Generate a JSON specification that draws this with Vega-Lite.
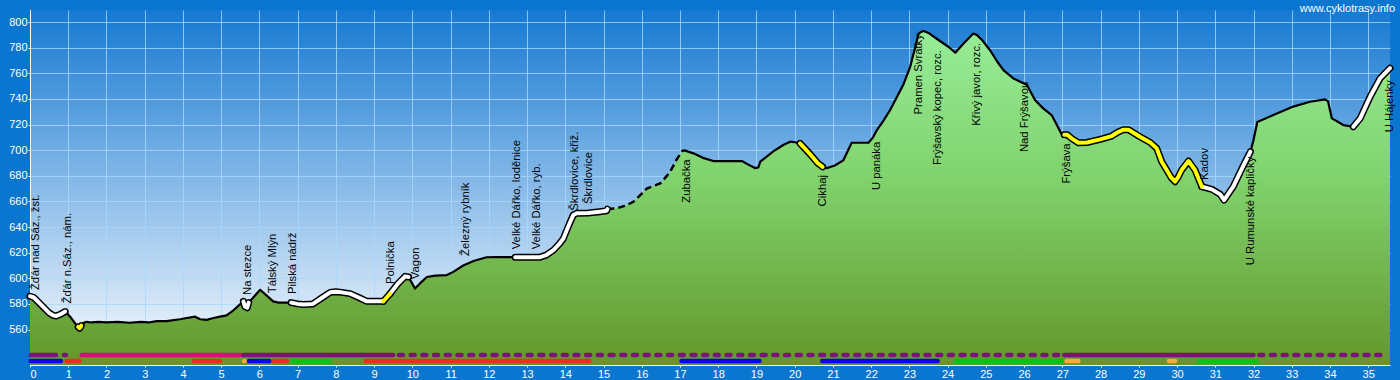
{
  "$schema": "https://vega.github.io/schema/vega-lite/v6.json",
  "width": 1360,
  "height": 355,
  "autosize": "none",
  "padding": {"left": 30, "top": 10, "right": 10, "bottom": 15},
  "background": "#0b76cf",
  "title": {"text": "www.cyklotrasy.info", "anchor": "end", "frame": "group", "color": "white", "font": "Liberation Sans", "fontSize": 11, "fontWeight": "normal", "offset": 0, "dx": 5, "dy": 4},
  "config": {
    "view": {"stroke": null, "fill": {"gradient": "linear", "x1": 0, "y1": 0, "x2": 0, "y2": 1, "stops": [{"offset": 0, "color": "#1679d2"}, {"offset": 1, "color": "#fbfcfe"}]}},
    "axis": {"labelFont": "Liberation Sans", "labelFontSize": 11, "labelColor": "white", "domainColor": "white", "tickColor": "white", "gridColor": "#a8d8ff", "gridOpacity": 0.8, "title": null, "labelOverlap": false, "tickSize": 2, "labelPadding": 1}
  },
  "datasets": {
    "profile": [
      {"km":0,"elev":586,"t":"w","g":"w1"},{"km":0.1,"elev":585,"t":"w","g":"w1"},{"km":0.3,"elev":579,"t":"w","g":"w1"},{"km":0.5,"elev":573,"t":"w","g":"w1"},{"km":0.61,"elev":571,"t":"w","g":"w1"},{"km":0.68,"elev":570.5,"t":"w","g":"w1"},{"km":0.8,"elev":572,"t":"w","g":"w1"},{"km":0.92,"elev":574,"t":"w","g":"w1"},
      {"km":0.92,"elev":574,"t":"b","g":"b1"},{"km":1.05,"elev":570,"t":"b","g":"b1"},{"km":1.2,"elev":564,"t":"b","g":"b1"},{"km":1.26,"elev":562,"t":"b","g":"b1"},
      {"km":1.26,"elev":562,"t":"y","g":"y1"},{"km":1.3,"elev":561,"t":"y","g":"y1"},{"km":1.34,"elev":563,"t":"y","g":"y1"},
      {"km":1.34,"elev":563,"t":"b","g":"b2"},{"km":1.39,"elev":565,"t":"b","g":"b2"},{"km":1.48,"elev":566,"t":"b","g":"b2"},{"km":1.6,"elev":565.5,"t":"b","g":"b2"},{"km":1.8,"elev":566,"t":"b","g":"b2"},{"km":2.0,"elev":565.5,"t":"b","g":"b2"},{"km":2.3,"elev":566,"t":"b","g":"b2"},{"km":2.6,"elev":565.3,"t":"b","g":"b2"},{"km":2.9,"elev":566,"t":"b","g":"b2"},{"km":3.1,"elev":565.5,"t":"b","g":"b2"},{"km":3.31,"elev":566.6,"t":"b","g":"b2"},{"km":3.57,"elev":566.6,"t":"b","g":"b2"},{"km":3.92,"elev":568,"t":"b","g":"b2"},{"km":4.1,"elev":569,"t":"b","g":"b2"},{"km":4.32,"elev":570,"t":"b","g":"b2"},{"km":4.45,"elev":568,"t":"b","g":"b2"},{"km":4.62,"elev":567.5,"t":"b","g":"b2"},{"km":4.8,"elev":569,"t":"b","g":"b2"},{"km":4.97,"elev":570,"t":"b","g":"b2"},{"km":5.14,"elev":571,"t":"b","g":"b2"},{"km":5.32,"elev":575,"t":"b","g":"b2"},{"km":5.58,"elev":582,"t":"b","g":"b2"},
      {"km":5.58,"elev":582,"t":"w","g":"w2"},{"km":5.62,"elev":578,"t":"w","g":"w2"},{"km":5.68,"elev":577,"t":"w","g":"w2"},{"km":5.72,"elev":581,"t":"w","g":"w2"},
      {"km":5.72,"elev":581,"t":"b","g":"b3"},{"km":6.02,"elev":591,"t":"b","g":"b3"},{"km":6.36,"elev":582,"t":"b","g":"b3"},{"km":6.5,"elev":581,"t":"b","g":"b3"},{"km":6.83,"elev":581,"t":"b","g":"b3"},
      {"km":6.83,"elev":581,"t":"w","g":"w3"},{"km":7.0,"elev":580,"t":"w","g":"w3"},{"km":7.15,"elev":579.5,"t":"w","g":"w3"},{"km":7.4,"elev":580,"t":"w","g":"w3"},{"km":7.6,"elev":584,"t":"w","g":"w3"},{"km":7.85,"elev":589,"t":"w","g":"w3"},{"km":8.0,"elev":589.5,"t":"w","g":"w3"},{"km":8.15,"elev":589,"t":"w","g":"w3"},{"km":8.37,"elev":588,"t":"w","g":"w3"},{"km":8.6,"elev":585,"t":"w","g":"w3"},{"km":8.81,"elev":582,"t":"w","g":"w3"},{"km":9.0,"elev":582,"t":"w","g":"w3"},{"km":9.24,"elev":582,"t":"w","g":"w3"},
      {"km":9.24,"elev":582,"t":"y","g":"y2"},{"km":9.33,"elev":585,"t":"y","g":"y2"},{"km":9.42,"elev":588,"t":"y","g":"y2"},
      {"km":9.42,"elev":588,"t":"w","g":"w4"},{"km":9.6,"elev":595,"t":"w","g":"w4"},{"km":9.81,"elev":601.5,"t":"w","g":"w4"},{"km":9.9,"elev":601,"t":"w","g":"w4"},
      {"km":9.9,"elev":601,"t":"b","g":"b4"},{"km":10.07,"elev":592,"t":"b","g":"b4"},{"km":10.2,"elev":596,"t":"b","g":"b4"},{"km":10.38,"elev":601,"t":"b","g":"b4"},{"km":10.6,"elev":602,"t":"b","g":"b4"},{"km":10.9,"elev":602.5,"t":"b","g":"b4"},{"km":11.07,"elev":605,"t":"b","g":"b4"},{"km":11.33,"elev":610,"t":"b","g":"b4"},{"km":11.6,"elev":613.5,"t":"b","g":"b4"},{"km":11.94,"elev":616.4,"t":"b","g":"b4"},{"km":12.2,"elev":616.5,"t":"b","g":"b4"},{"km":12.69,"elev":616.5,"t":"b","g":"b4"},
      {"km":12.69,"elev":616.5,"t":"w","g":"w5"},{"km":13.0,"elev":616.5,"t":"w","g":"w5"},{"km":13.34,"elev":616.5,"t":"w","g":"w5"},{"km":13.5,"elev":618,"t":"w","g":"w5"},{"km":13.69,"elev":622,"t":"w","g":"w5"},{"km":13.85,"elev":627,"t":"w","g":"w5"},{"km":13.95,"elev":631,"t":"w","g":"w5"},{"km":14.1,"elev":642,"t":"w","g":"w5"},{"km":14.21,"elev":649.4,"t":"w","g":"w5"},{"km":14.3,"elev":650.7,"t":"w","g":"w5"},{"km":14.6,"elev":651,"t":"w","g":"w5"},{"km":14.9,"elev":652,"t":"w","g":"w5"},{"km":15.08,"elev":652.7,"t":"w","g":"w5"},{"km":15.1,"elev":654,"t":"w","g":"w5"},
      {"km":15.1,"elev":654,"t":"d","g":"d1"},{"km":15.35,"elev":654.6,"t":"d","g":"d1"},{"km":15.55,"elev":656.5,"t":"d","g":"d1"},{"km":15.78,"elev":659.7,"t":"d","g":"d1"},{"km":16.0,"elev":666,"t":"d","g":"d1"},{"km":16.13,"elev":670,"t":"d","g":"d1"},{"km":16.3,"elev":672,"t":"d","g":"d1"},{"km":16.48,"elev":674,"t":"d","g":"d1"},{"km":16.6,"elev":678,"t":"d","g":"d1"},{"km":16.74,"elev":683,"t":"d","g":"d1"},{"km":16.9,"elev":692,"t":"d","g":"d1"},{"km":17.05,"elev":699,"t":"d","g":"d1"},{"km":17.1,"elev":700,"t":"d","g":"d1"},
      {"km":17.1,"elev":700,"t":"b","g":"b5"},{"km":17.35,"elev":697.5,"t":"b","g":"b5"},{"km":17.6,"elev":694,"t":"b","g":"b5"},{"km":17.87,"elev":691.5,"t":"b","g":"b5"},{"km":18.3,"elev":691.5,"t":"b","g":"b5"},{"km":18.62,"elev":691.5,"t":"b","g":"b5"},{"km":18.8,"elev":688.5,"t":"b","g":"b5"},{"km":18.96,"elev":686,"t":"b","g":"b5"},{"km":19.05,"elev":686.5,"t":"b","g":"b5"},{"km":19.1,"elev":691,"t":"b","g":"b5"},{"km":19.44,"elev":699,"t":"b","g":"b5"},{"km":19.7,"elev":704,"t":"b","g":"b5"},{"km":19.88,"elev":706.6,"t":"b","g":"b5"},{"km":20.05,"elev":706,"t":"b","g":"b5"},{"km":20.14,"elev":705.3,"t":"b","g":"b5"},
      {"km":20.14,"elev":705.3,"t":"y","g":"y3"},{"km":20.4,"elev":697,"t":"y","g":"y3"},{"km":20.6,"elev":690,"t":"y","g":"y3"},{"km":20.73,"elev":687,"t":"y","g":"y3"},
      {"km":20.73,"elev":687,"t":"b","g":"b6"},{"km":20.84,"elev":686,"t":"b","g":"b6"},{"km":21.05,"elev":688,"t":"b","g":"b6"},{"km":21.27,"elev":692,"t":"b","g":"b6"},{"km":21.49,"elev":705.8,"t":"b","g":"b6"},{"km":21.93,"elev":705.8,"t":"b","g":"b6"},{"km":22.05,"elev":710,"t":"b","g":"b6"},{"km":22.15,"elev":715.7,"t":"b","g":"b6"},{"km":22.3,"elev":722,"t":"b","g":"b6"},{"km":22.49,"elev":731,"t":"b","g":"b6"},{"km":22.84,"elev":751,"t":"b","g":"b6"},{"km":23.02,"elev":765,"t":"b","g":"b6"},{"km":23.15,"elev":780,"t":"b","g":"b6"},{"km":23.24,"elev":791,"t":"b","g":"b6"},{"km":23.32,"elev":792.5,"t":"b","g":"b6"},{"km":23.37,"elev":793,"t":"b","g":"b6"},{"km":23.5,"elev":791.5,"t":"b","g":"b6"},{"km":23.76,"elev":786,"t":"b","g":"b6"},{"km":24.02,"elev":780.7,"t":"b","g":"b6"},{"km":24.2,"elev":776,"t":"b","g":"b6"},{"km":24.41,"elev":783,"t":"b","g":"b6"},{"km":24.67,"elev":791,"t":"b","g":"b6"},{"km":24.76,"elev":790,"t":"b","g":"b6"},{"km":24.9,"elev":786,"t":"b","g":"b6"},{"km":25.11,"elev":778,"t":"b","g":"b6"},{"km":25.3,"elev":769,"t":"b","g":"b6"},{"km":25.46,"elev":762.5,"t":"b","g":"b6"},{"km":25.72,"elev":756,"t":"b","g":"b6"},{"km":25.9,"elev":753.4,"t":"b","g":"b6"},{"km":26.07,"elev":751,"t":"b","g":"b6"},{"km":26.29,"elev":739,"t":"b","g":"b6"},{"km":26.5,"elev":732.6,"t":"b","g":"b6"},{"km":26.72,"elev":727.4,"t":"b","g":"b6"},{"km":26.85,"elev":720,"t":"b","g":"b6"},{"km":26.99,"elev":711.8,"t":"b","g":"b6"},{"km":27.05,"elev":712,"t":"b","g":"b6"},
      {"km":27.05,"elev":712,"t":"y","g":"y4"},{"km":27.13,"elev":712,"t":"y","g":"y4"},{"km":27.25,"elev":709,"t":"y","g":"y4"},{"km":27.42,"elev":705.8,"t":"y","g":"y4"},{"km":27.64,"elev":706,"t":"y","g":"y4"},{"km":27.99,"elev":708.4,"t":"y","g":"y4"},{"km":28.29,"elev":711,"t":"y","g":"y4"},{"km":28.45,"elev":714,"t":"y","g":"y4"},{"km":28.6,"elev":716,"t":"y","g":"y4"},{"km":28.73,"elev":716,"t":"y","g":"y4"},{"km":29.03,"elev":710.5,"t":"y","g":"y4"},{"km":29.3,"elev":706,"t":"y","g":"y4"},{"km":29.47,"elev":701.4,"t":"y","g":"y4"},{"km":29.6,"elev":691,"t":"y","g":"y4"},{"km":29.73,"elev":684.5,"t":"y","g":"y4"},{"km":29.85,"elev":678.5,"t":"y","g":"y4"},{"km":29.95,"elev":675.4,"t":"y","g":"y4"},{"km":30.03,"elev":679,"t":"y","g":"y4"},{"km":30.12,"elev":684.5,"t":"y","g":"y4"},{"km":30.3,"elev":691.5,"t":"y","g":"y4"},{"km":30.47,"elev":684.5,"t":"y","g":"y4"},{"km":30.65,"elev":671.5,"t":"y","g":"y4"},
      {"km":30.65,"elev":671.5,"t":"w","g":"w6"},{"km":30.91,"elev":669.4,"t":"w","g":"w6"},{"km":31.13,"elev":665.5,"t":"w","g":"w6"},{"km":31.23,"elev":661,"t":"w","g":"w6"},{"km":31.47,"elev":671.5,"t":"w","g":"w6"},{"km":31.7,"elev":685.8,"t":"w","g":"w6"},{"km":31.92,"elev":698.8,"t":"w","g":"w6"},
      {"km":31.92,"elev":698.8,"t":"b","g":"b7"},{"km":32.0,"elev":708,"t":"b","g":"b7"},{"km":32.1,"elev":722,"t":"b","g":"b7"},{"km":32.52,"elev":727.4,"t":"b","g":"b7"},{"km":33.04,"elev":734,"t":"b","g":"b7"},{"km":33.48,"elev":737.8,"t":"b","g":"b7"},{"km":33.87,"elev":739.7,"t":"b","g":"b7"},{"km":33.95,"elev":738,"t":"b","g":"b7"},{"km":34.05,"elev":724.8,"t":"b","g":"b7"},{"km":34.35,"elev":719.6,"t":"b","g":"b7"},{"km":34.61,"elev":718.3,"t":"b","g":"b7"},
      {"km":34.61,"elev":718.3,"t":"w","g":"w7"},{"km":34.79,"elev":724.8,"t":"w","g":"w7"},{"km":35.05,"elev":741.7,"t":"w","g":"w7"},{"km":35.31,"elev":756,"t":"w","g":"w7"},{"km":35.57,"elev":764,"t":"w","g":"w7"}
    ],
    "labels": [
      {"km":0.16,"elev":590.8,"name":"Žďár nad Sáz., žst.","pos":"a"},
      {"km":1.0,"elev":580.4,"name":"Žďár n.Sáz., nám.","pos":"a"},
      {"km":5.71,"elev":587,"name":"Na stezce","pos":"a"},
      {"km":6.36,"elev":588.3,"name":"Tálský Mlýn","pos":"a"},
      {"km":6.87,"elev":587.7,"name":"Pilská nádrž","pos":"a"},
      {"km":9.43,"elev":595.5,"name":"Polnička","pos":"a"},
      {"km":10.1,"elev":599.2,"name":"Vagon","pos":"a"},
      {"km":11.4,"elev":617.4,"name":"Železný rybník","pos":"a"},
      {"km":12.73,"elev":622.6,"name":"Velké Dářko, loděnice","pos":"a"},
      {"km":13.25,"elev":622.6,"name":"Velké Dářko, ryb.","pos":"a"},
      {"km":14.26,"elev":652.7,"name":"Škrdlovice, křiž.","pos":"a"},
      {"km":14.63,"elev":658,"name":"Škrdlovice","pos":"a"},
      {"km":30.73,"elev":676.7,"name":"Kadov","pos":"a"},
      {"km":17.19,"elev":692.8,"name":"Zubačka","pos":"b"},
      {"km":20.73,"elev":680.6,"name":"Cikhaj","pos":"b"},
      {"km":22.15,"elev":706.6,"name":"U panáka","pos":"b"},
      {"km":23.26,"elev":790.6,"name":"Pramen Svratky","pos":"b"},
      {"km":23.76,"elev":778,"name":"Frýšavský kopec, rozc.","pos":"b"},
      {"km":24.76,"elev":783.8,"name":"Křivý javor, rozc.","pos":"b"},
      {"km":26.03,"elev":753.4,"name":"Nad Frýšavou","pos":"b"},
      {"km":27.12,"elev":705.3,"name":"Frýšava","pos":"b"},
      {"km":31.93,"elev":694.9,"name":"U Rumunské kapličky","pos":"b"},
      {"km":35.56,"elev":754.7,"name":"U Hájenky","pos":"b"}
    ],
    "bars": [
      {"row":1,"start":0.02,"end":0.68,"kind":"p"},
      {"row":1,"start":0.89,"end":0.94,"kind":"p"},
      {"row":1,"start":1.35,"end":5.52,"kind":"m"},
      {"row":1,"start":5.58,"end":9.5,"kind":"p"},
      {"row":1,"start":9.65,"end":26.95,"kind":"pd"},
      {"row":1,"start":27.05,"end":32.0,"kind":"p"},
      {"row":1,"start":32.15,"end":35.5,"kind":"pd"},
      {"row":2,"start":0.02,"end":0.81,"kind":"b"},
      {"row":2,"start":0.96,"end":1.29,"kind":"r"},
      {"row":2,"start":4.29,"end":4.97,"kind":"r"},
      {"row":2,"start":5.6,"end":5.61,"kind":"o"},
      {"row":2,"start":5.73,"end":6.26,"kind":"b"},
      {"row":2,"start":6.38,"end":6.72,"kind":"r"},
      {"row":2,"start":6.88,"end":7.83,"kind":"g"},
      {"row":2,"start":8.78,"end":14.63,"kind":"r"},
      {"row":2,"start":17.04,"end":19.08,"kind":"b"},
      {"row":2,"start":20.72,"end":23.74,"kind":"b"},
      {"row":2,"start":24.23,"end":26.98,"kind":"g"},
      {"row":2,"start":27.11,"end":27.42,"kind":"o"},
      {"row":2,"start":29.79,"end":29.95,"kind":"o"},
      {"row":2,"start":30.58,"end":32.07,"kind":"g"}
    ]
  },
  "layer": [
    {
      "data": {"name": "profile"},
      "mark": {"type": "area", "clip": true, "color": {"gradient": "linear", "x1": 0, "y1": 0, "x2": 0, "y2": 1, "stops": [{"offset": 0, "color": "#97ec97"}, {"offset": 0.45, "color": "#80d26c"}, {"offset": 1, "color": "#63972a"}]}},
      "encoding": {
        "x": {"field": "km", "type": "quantitative", "scale": {"domain": [0, 35.57], "nice": false, "zero": false}, "axis": {"values": [0,1,2,3,4,5,6,7,8,9,10,11,12,13,14,15,16,17,18,19,20,21,22,23,24,25,26,27,28,29,30,31,32,33,34,35], "tickCount": 40, "labelOverlap": false}},
        "y": {"field": "elev", "type": "quantitative", "stack": null, "scale": {"domain": [532.3, 809.4], "nice": false, "zero": false}, "axis": {"values": [560,580,600,620,640,660,680,700,720,740,760,780,800], "tickCount": 20, "labelOverlap": false}}
      }
    },
    {
      "data": {"name": "profile"},
      "transform": [{"filter": "datum.t == 'w' || datum.t == 'y'"}],
      "mark": {"type": "line", "color": "black", "strokeWidth": 7, "strokeCap": "round", "strokeJoin": "round"},
      "encoding": {"x": {"field": "km", "type": "quantitative"}, "y": {"field": "elev", "type": "quantitative"}, "detail": {"field": "g"}}
    },
    {
      "data": {"name": "profile"},
      "transform": [{"filter": "datum.t == 'b'"}],
      "mark": {"type": "line", "color": "black", "strokeWidth": 2.2, "strokeJoin": "round"},
      "encoding": {"x": {"field": "km", "type": "quantitative"}, "y": {"field": "elev", "type": "quantitative"}, "detail": {"field": "g"}}
    },
    {
      "data": {"name": "profile"},
      "transform": [{"filter": "datum.t == 'd'"}],
      "mark": {"type": "line", "color": "black", "strokeWidth": 2.5, "strokeDash": [7, 4]},
      "encoding": {"x": {"field": "km", "type": "quantitative"}, "y": {"field": "elev", "type": "quantitative"}, "detail": {"field": "g"}}
    },
    {
      "data": {"name": "profile"},
      "transform": [{"filter": "datum.t == 'w'"}],
      "mark": {"type": "line", "color": "white", "strokeWidth": 4, "strokeCap": "round", "strokeJoin": "round"},
      "encoding": {"x": {"field": "km", "type": "quantitative"}, "y": {"field": "elev", "type": "quantitative"}, "detail": {"field": "g"}}
    },
    {
      "data": {"name": "profile"},
      "transform": [{"filter": "datum.t == 'y'"}],
      "mark": {"type": "line", "color": "#ffff00", "strokeWidth": 4, "strokeCap": "round", "strokeJoin": "round"},
      "encoding": {"x": {"field": "km", "type": "quantitative"}, "y": {"field": "elev", "type": "quantitative"}, "detail": {"field": "g"}}
    },
    {
      "data": {"name": "labels"},
      "transform": [{"filter": "datum.pos == 'a'"}],
      "mark": {"type": "text", "angle": 270, "align": "left", "baseline": "middle", "font": "Liberation Sans", "fontSize": 11.3, "color": "black"},
      "encoding": {"x": {"field": "km", "type": "quantitative"}, "y": {"field": "elev", "type": "quantitative"}, "text": {"field": "name"}}
    },
    {
      "data": {"name": "labels"},
      "transform": [{"filter": "datum.pos == 'b'"}],
      "mark": {"type": "text", "angle": 270, "align": "right", "baseline": "middle", "font": "Liberation Sans", "fontSize": 11.3, "color": "black"},
      "encoding": {"x": {"field": "km", "type": "quantitative"}, "y": {"field": "elev", "type": "quantitative"}, "text": {"field": "name"}}
    },
    {
      "data": {"name": "bars"},
      "transform": [{"filter": "datum.row == 1 && datum.kind != 'pd'"}],
      "mark": {"type": "rule", "strokeWidth": 4.5, "strokeCap": "round"},
      "encoding": {"x": {"field": "start", "type": "quantitative"}, "x2": {"field": "end"}, "y": {"datum": 540.1},
        "color": {"field": "kind", "type": "nominal", "legend": null, "scale": {"domain": ["p","m","b","r","g","o"], "range": ["#7a137a","#d8107a","#0008e8","#e83020","#10c010","#f0b030"]}}}
    },
    {
      "data": {"name": "bars"},
      "transform": [{"filter": "datum.kind == 'pd'"}],
      "mark": {"type": "rule", "strokeWidth": 4.5, "strokeCap": "round", "strokeDash": [4, 7.7], "color": "#7a137a"},
      "encoding": {"x": {"field": "start", "type": "quantitative"}, "x2": {"field": "end"}, "y": {"datum": 540.1}}
    },
    {
      "data": {"name": "bars"},
      "transform": [{"filter": "datum.row == 2"}],
      "mark": {"type": "rule", "strokeWidth": 4.5, "strokeCap": "round"},
      "encoding": {"x": {"field": "start", "type": "quantitative"}, "x2": {"field": "end"}, "y": {"datum": 535.4},
        "color": {"field": "kind", "type": "nominal", "legend": null}}
    }
  ]
}
